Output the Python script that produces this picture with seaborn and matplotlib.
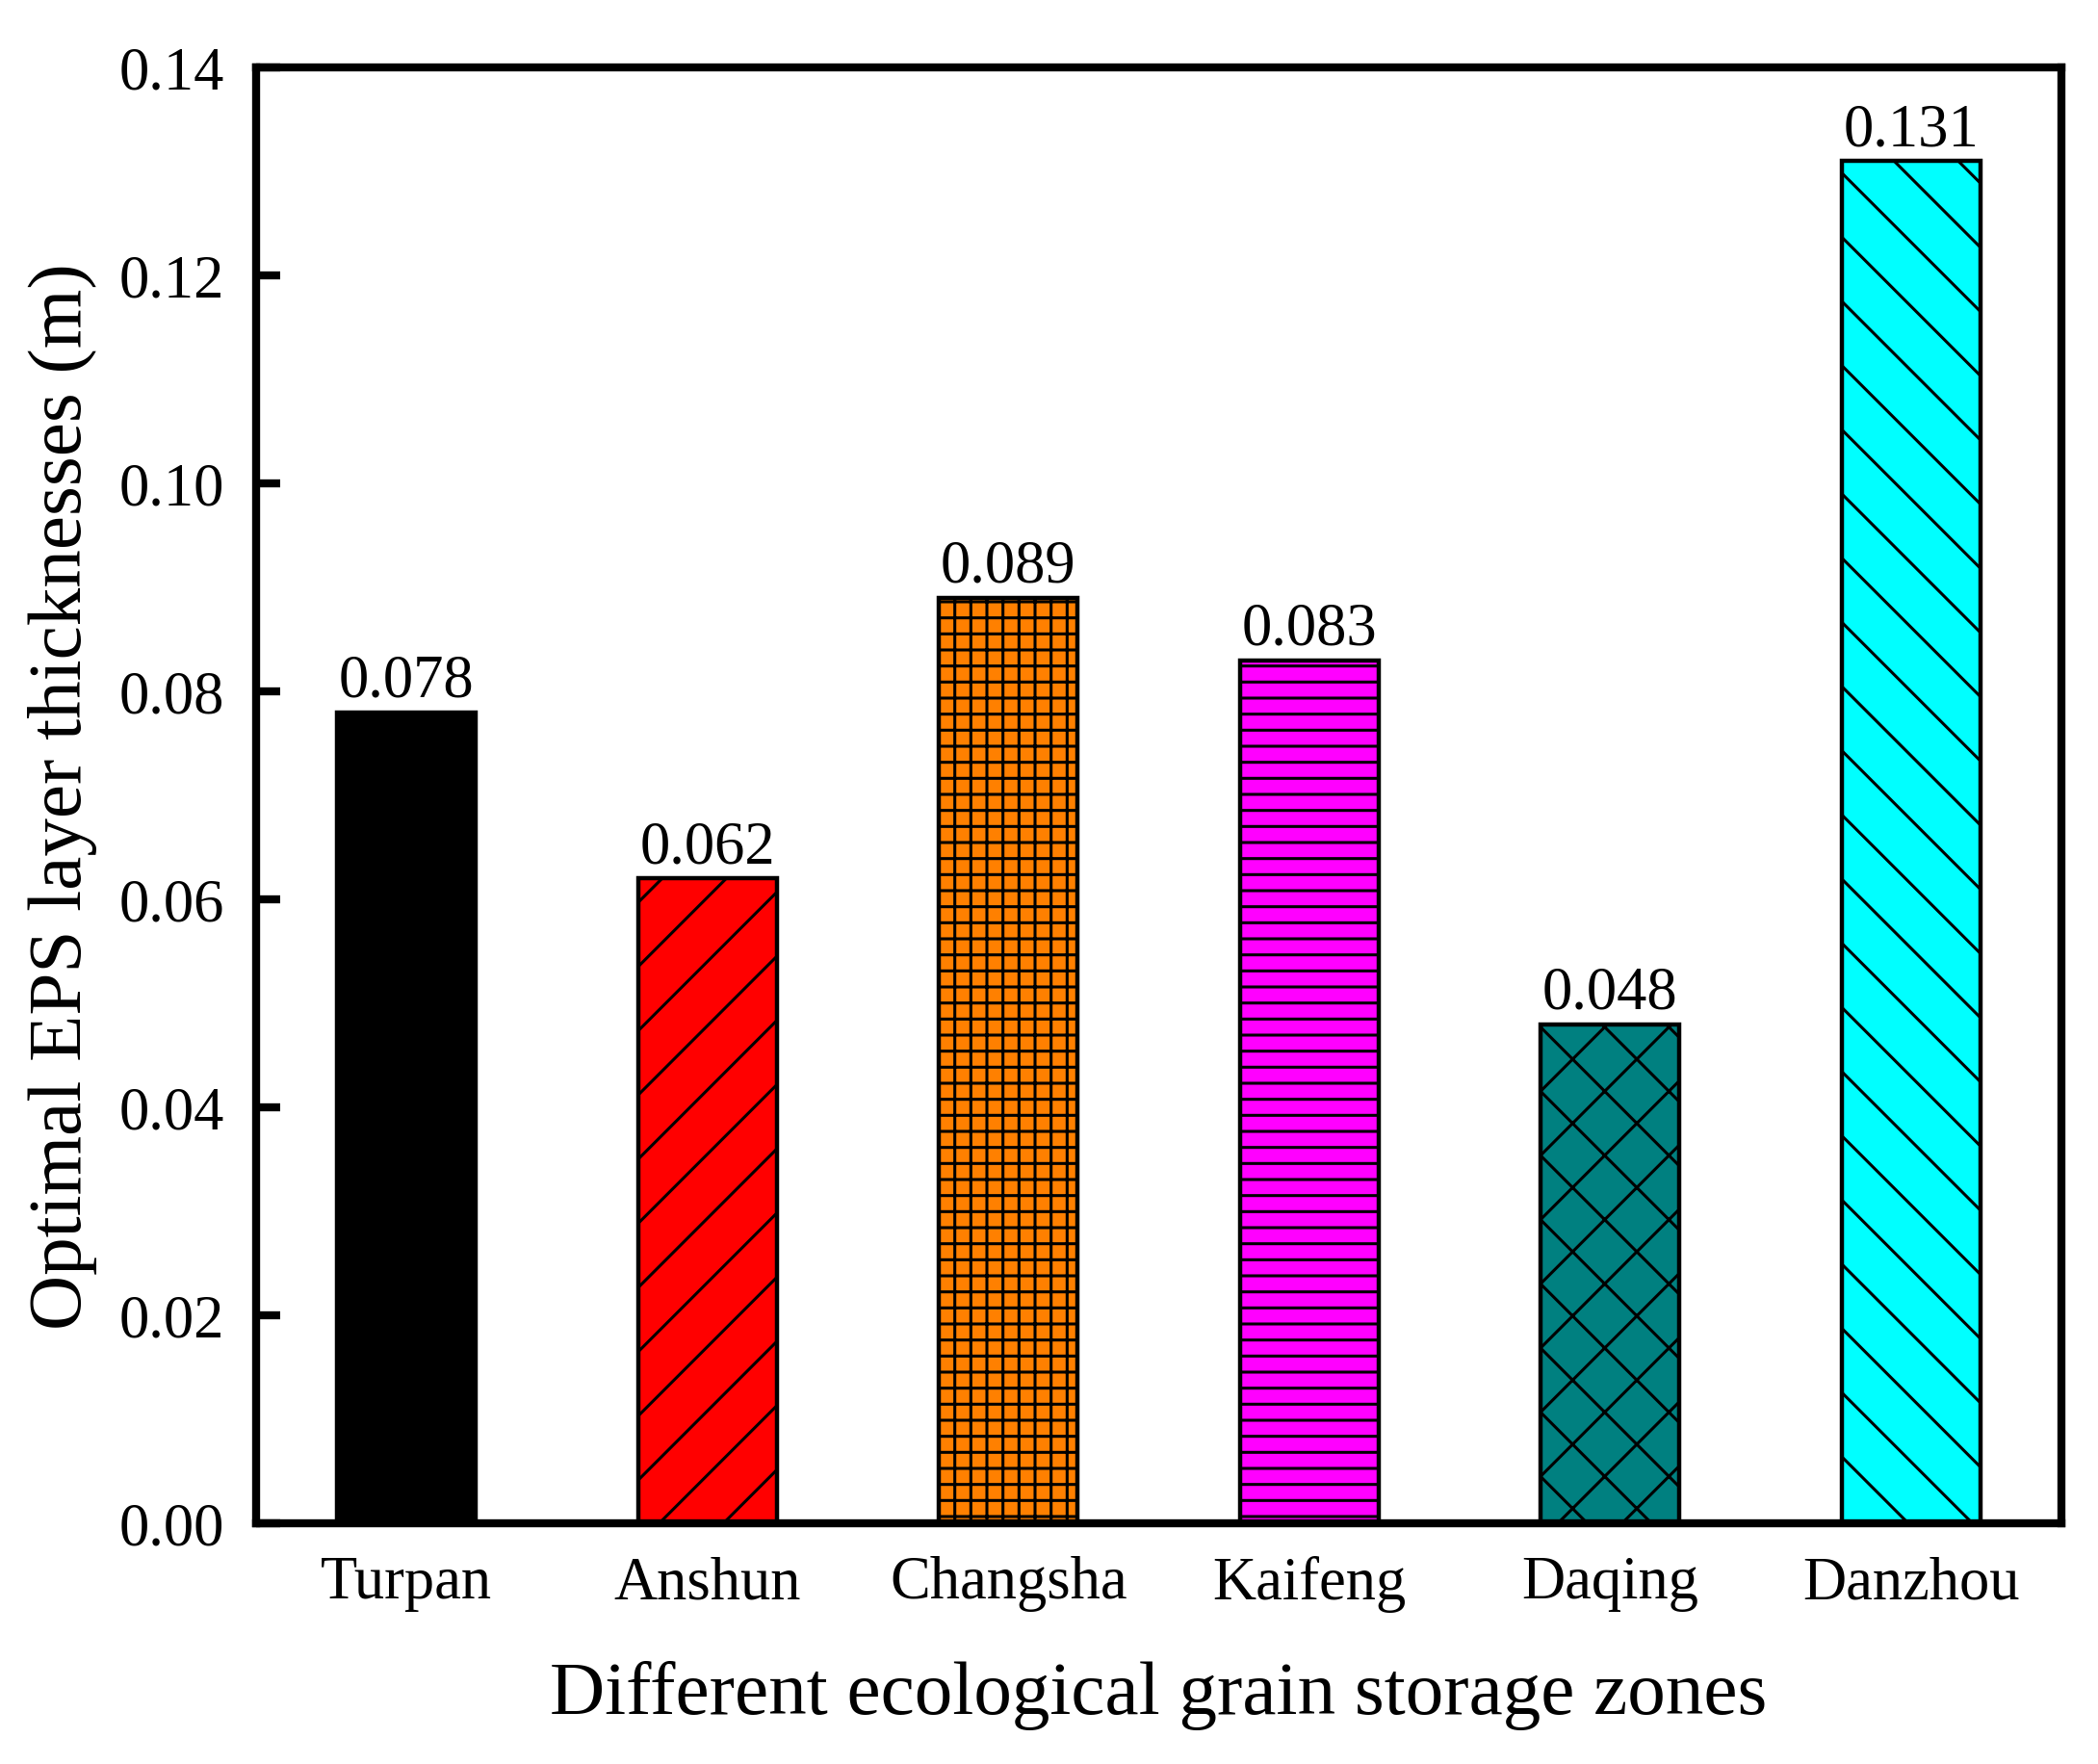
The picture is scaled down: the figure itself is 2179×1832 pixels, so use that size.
import matplotlib
matplotlib.use("Agg")
import matplotlib.pyplot as plt
import seaborn as sns
import pandas as pd

# data
zones = ["Turpan", "Anshun", "Changsha", "Kaifeng", "Daqing", "Danzhou"]
thickness = [0.078, 0.062, 0.089, 0.083, 0.048, 0.131]
bar_colors = ["#000000", "#FF0000", "#FF8000", "#FF00FF", "#008080", "#00FFFF"]
hatches = ["", "/", "++", "--", "x", "\\"]
yticks = [0.00, 0.02, 0.04, 0.06, 0.08, 0.10, 0.12, 0.14]

sns.set_style("ticks")
plt.rcParams["font.family"] = ["Liberation Serif", "DejaVu Serif"]
plt.rcParams["hatch.linewidth"] = 1.1
plt.rcParams["hatch.color"] = "black"
plt.rcParams["text.color"] = "black"
plt.rcParams["axes.labelcolor"] = "black"
plt.rcParams["xtick.color"] = "black"
plt.rcParams["ytick.color"] = "black"

df = pd.DataFrame({"zone": zones, "thickness": thickness})

fig = plt.figure(figsize=(2179 / 200, 1833 / 200), dpi=200)
ax = fig.add_axes([0.1221, 0.1364, 0.9826 - 0.1221, 0.9613 - 0.1364])

sns.barplot(data=df, x="zone", y="thickness", hue="zone", palette=bar_colors,
            order=zones, hue_order=zones, width=0.46, legend=False,
            edgecolor="black", linewidth=1.6, saturation=1, ax=ax)

for patch, h in zip(ax.patches, hatches):
    patch.set_hatch(h)

for cont in ax.containers:
    ax.bar_label(cont, fmt="%.3f", padding=1, fontsize=22.5, color="black")

ax.set_xlim(-0.5, 5.5)
ax.set_ylim(0, 0.14)
ax.set_yticks(yticks)
ax.set_yticklabels([f"{v:.2f}" for v in yticks])

for side in ["top", "bottom", "left", "right"]:
    ax.spines[side].set_visible(True)
    ax.spines[side].set_linewidth(3)
    ax.spines[side].set_color("black")

ax.tick_params(axis="y", direction="in", length=9, width=3, labelsize=22.5, pad=12,
               colors="black")
ax.tick_params(axis="x", length=0, labelsize=22.5, pad=12, colors="black")

ax.set_xlabel("Different ecological grain storage zones", fontsize=28.5, labelpad=18)
ax.set_ylabel("Optimal EPS layer thicknesses (m)", fontsize=28.5, labelpad=8)

fig.savefig("out.png", dpi=200)
